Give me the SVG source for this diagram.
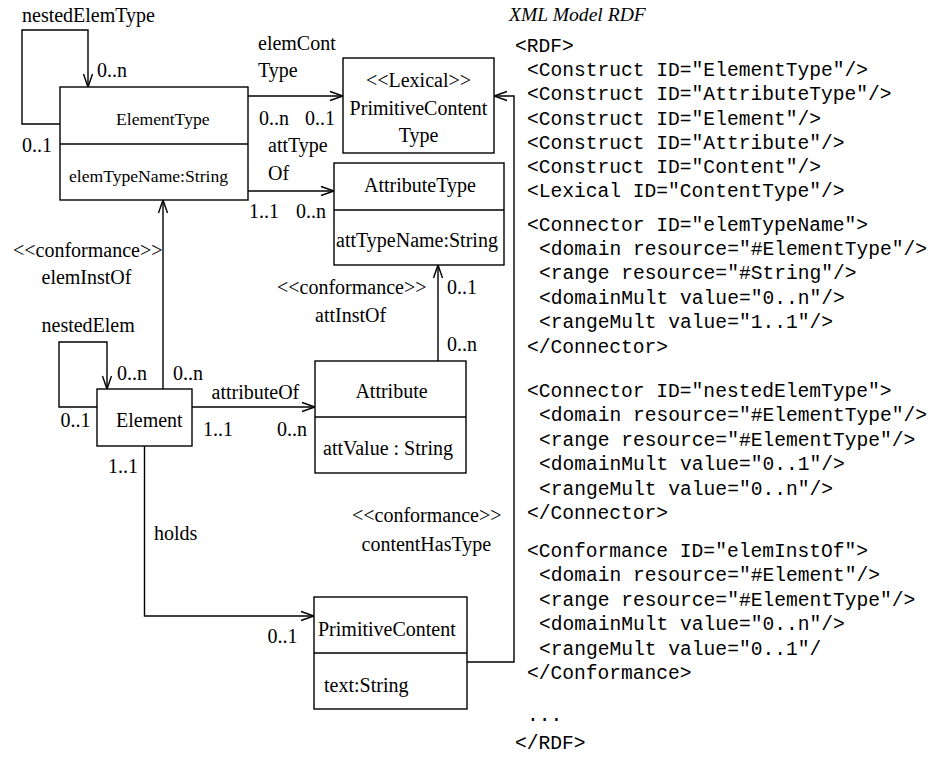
<svg xmlns="http://www.w3.org/2000/svg" width="938" height="762" viewBox="0 0 938 762">
  <style>
    .box { fill: #fff; stroke: #000; stroke-width: 1.4; }
    .ln { fill: none; stroke: #000; stroke-width: 1.4; }
    .t { font-family: "Liberation Serif", "Times New Roman", serif; font-size: 20px; fill: #000; }
    .ts { font-family: "Liberation Serif", "Times New Roman", serif; font-size: 17.6px; fill: #000; }
    .ti { font-family: "Liberation Serif", "Times New Roman", serif; font-size: 19.6px; font-style: italic; fill: #000; }
    .m { font-family: "Liberation Mono", "Courier New", monospace; font-size: 19.6px; fill: #000; white-space: pre; }
  </style>
  <defs>
    <marker id="open" markerUnits="userSpaceOnUse" viewBox="-14 -6 16 12" refX="0" refY="0" markerWidth="16" markerHeight="12" orient="auto" overflow="visible">
      <path d="M-13,-4.5 L0,0 L-13,4.5" fill="none" stroke="#000" stroke-width="1.4"/>
    </marker>
  </defs>

  <rect width="938" height="762" fill="#fff"/>

  <!-- connectors -->
  <g id="connectors">
    <!-- nestedElemType self loop -->
    <path class="ln" d="M60,124 H22 V30 H88 V87" marker-end="url(#open)"/>
    <!-- elemContType -->
    <path class="ln" d="M248,96 H343" marker-end="url(#open)"/>
    <!-- attTypeOf -->
    <path class="ln" d="M248,191 H334" marker-end="url(#open)"/>
    <!-- elemInstOf -->
    <path class="ln" d="M163,389 V200" marker-end="url(#open)"/>
    <!-- nestedElem self loop -->
    <path class="ln" d="M97,407 H59 V342 H107 V389" marker-end="url(#open)"/>
    <!-- attributeOf -->
    <path class="ln" d="M192,407 H315" marker-end="url(#open)"/>
    <!-- attInstOf -->
    <path class="ln" d="M438,361 V265" marker-end="url(#open)"/>
    <!-- holds -->
    <path class="ln" d="M144.5,446 V616 H314" marker-end="url(#open)"/>
    <!-- contentHasType -->
    <path class="ln" d="M467,662 H514 V96 H494" marker-end="url(#open)"/>
  </g>

  <!-- connector labels -->
  <g id="labels">
    <text class="t" x="22" y="22">nestedElemType</text>
    <text class="t" x="97" y="77">0..n</text>
    <text class="t" x="22" y="152">0..1</text>

    <text class="t" x="258" y="50">elemCont</text>
    <text class="t" x="258" y="77">Type</text>
    <text class="t" x="259" y="125">0..n</text>
    <text class="t" x="305" y="125">0..1</text>
    <text class="t" x="268" y="152">attType</text>
    <text class="t" x="268" y="180">Of</text>
    <text class="t" x="249" y="218">1..1</text>
    <text class="t" x="296" y="218">0..n</text>

    <text class="t" x="13" y="257">&lt;&lt;conformance&gt;&gt;</text>
    <text class="t" x="41.5" y="284">elemInstOf</text>
    <text class="t" x="41.5" y="332">nestedElem</text>
    <text class="t" x="117" y="380">0..n</text>
    <text class="t" x="173" y="380">0..n</text>
    <text class="t" x="60.5" y="427">0..1</text>
    <text class="t" x="211.5" y="399">attributeOf</text>
    <text class="t" x="203" y="436">1..1</text>
    <text class="t" x="277" y="436">0..n</text>
    <text class="t" x="108" y="473">1..1</text>

    <text class="t" x="277" y="294">&lt;&lt;conformance&gt;&gt;</text>
    <text class="t" x="315" y="322">attInstOf</text>
    <text class="t" x="447" y="294">0..1</text>
    <text class="t" x="447" y="351">0..n</text>

    <text class="t" x="154" y="540">holds</text>
    <text class="t" x="267.5" y="643">0..1</text>
    <text class="t" x="352" y="522">&lt;&lt;conformance&gt;&gt;</text>
    <text class="t" x="361.5" y="551">contentHasType</text>
  </g>

  <!-- nodes -->
  <g id="ElementType">
    <rect class="box" x="60" y="87" width="188" height="113"/>
    <line class="ln" x1="60" y1="144" x2="248" y2="144"/>
    <text class="ts" x="116" y="125">ElementType</text>
    <text class="ts" x="69" y="182">elemTypeName:String</text>
  </g>

  <g id="PrimitiveContentType">
    <rect class="box" x="343" y="58" width="151" height="95"/>
    <text class="t" x="418.5" y="87" text-anchor="middle">&lt;&lt;Lexical&gt;&gt;</text>
    <text class="t" x="418.5" y="115" text-anchor="middle">PrimitiveContent</text>
    <text class="t" x="418.5" y="142" text-anchor="middle">Type</text>
  </g>

  <g id="AttributeType">
    <rect class="box" x="334" y="163" width="170" height="102"/>
    <line class="ln" x1="334" y1="210" x2="504" y2="210"/>
    <text class="t" x="364" y="192">AttributeType</text>
    <text class="t" x="336" y="247">attTypeName:String</text>
  </g>

  <g id="Element">
    <rect class="box" x="97" y="389" width="95" height="57"/>
    <text class="t" x="116" y="427">Element</text>
  </g>

  <g id="Attribute">
    <rect class="box" x="315" y="361" width="151" height="112"/>
    <line class="ln" x1="315" y1="417" x2="466" y2="417"/>
    <text class="t" x="391.5" y="398" text-anchor="middle">Attribute</text>
    <text class="t" x="323" y="455">attValue : String</text>
  </g>

  <g id="PrimitiveContent">
    <rect class="box" x="314" y="597" width="153" height="112"/>
    <line class="ln" x1="314" y1="653" x2="467" y2="653"/>
    <text class="t" x="318" y="636">PrimitiveContent</text>
    <text class="t" x="324" y="692">text:String</text>
  </g>

  <!-- RDF listing -->
  <g id="rdf-listing">
    <text class="ti" x="509" y="21">XML Model RDF</text>
    <text class="m" x="515" y="52">&lt;RDF&gt;</text>
    <text class="m" x="527" y="76.2">&lt;Construct ID="ElementType"/&gt;</text>
    <text class="m" x="527" y="100.4">&lt;Construct ID="AttributeType"/&gt;</text>
    <text class="m" x="527" y="124.6">&lt;Construct ID="Element"/&gt;</text>
    <text class="m" x="527" y="148.8">&lt;Construct ID="Attribute"/&gt;</text>
    <text class="m" x="527" y="173">&lt;Construct ID="Content"/&gt;</text>
    <text class="m" x="527" y="197.2">&lt;Lexical ID="ContentType"/&gt;</text>

    <text class="m" x="527" y="230.5">&lt;Connector ID="elemTypeName"&gt;</text>
    <text class="m" x="539" y="254.9">&lt;domain resource="#ElementType"/&gt;</text>
    <text class="m" x="539" y="279.3">&lt;range resource="#String"/&gt;</text>
    <text class="m" x="539" y="303.7">&lt;domainMult value="0..n"/&gt;</text>
    <text class="m" x="539" y="328.1">&lt;rangeMult value="1..1"/&gt;</text>
    <text class="m" x="527" y="352.5">&lt;/Connector&gt;</text>

    <text class="m" x="527" y="397">&lt;Connector ID="nestedElemType"&gt;</text>
    <text class="m" x="539" y="421.4">&lt;domain resource="#ElementType"/&gt;</text>
    <text class="m" x="539" y="445.8">&lt;range resource="#ElementType"/&gt;</text>
    <text class="m" x="539" y="470.2">&lt;domainMult value="0..1"/&gt;</text>
    <text class="m" x="539" y="494.6">&lt;rangeMult value="0..n"/&gt;</text>
    <text class="m" x="527" y="519">&lt;/Connector&gt;</text>

    <text class="m" x="527" y="557">&lt;Conformance ID="elemInstOf"&gt;</text>
    <text class="m" x="539" y="581.4">&lt;domain resource="#Element"/&gt;</text>
    <text class="m" x="539" y="605.8">&lt;range resource="#ElementType"/&gt;</text>
    <text class="m" x="539" y="630.2">&lt;domainMult value="0..n"/&gt;</text>
    <text class="m" x="539" y="654.6">&lt;rangeMult value="0..1"/</text>
    <text class="m" x="527" y="679">&lt;/Conformance&gt;</text>

    <text class="m" x="527" y="721">...</text>
    <text class="m" x="515" y="748.5">&lt;/RDF&gt;</text>
  </g>
</svg>
